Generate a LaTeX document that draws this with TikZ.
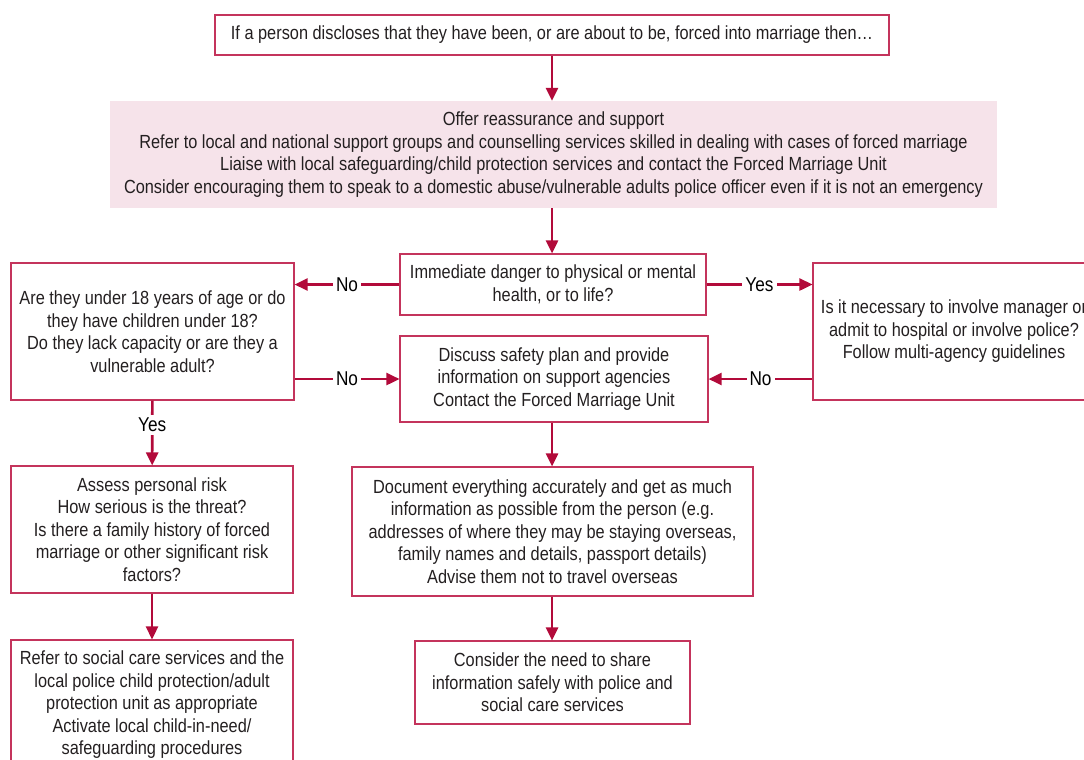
\documentclass[tikz,border=0pt]{standalone}
\usepackage{fontspec}
\setmainfont{Liberation Sans}[FakeStretch=0.86]
\usetikzlibrary{arrows.meta}
\definecolor{fmred}{RGB}{178,10,58}
\definecolor{fmedge}{RGB}{196,52,92}
\definecolor{fmpink}{RGB}{246,227,234}
\definecolor{fmtext}{RGB}{35,31,32}

\begin{document}
\begin{tikzpicture}[x=1pt,y=-1pt,
    box/.style={draw=fmedge, line width=1.1pt, align=center, inner sep=0pt, text=fmtext,
                font=\fontsize{19}{22.5}\selectfont},
    band/.style={fill=fmpink, align=center, inner sep=0pt, text=fmtext,
                font=\fontsize{19}{22.5}\selectfont},
    arr/.style={draw=fmred, line width=2.6pt, -{Triangle[length=13pt,width=12pt]}},
    lab/.style={fill=white, inner sep=3pt, text=black, font=\fontsize{20}{22}\selectfont}]
    \useasboundingbox (0,0) rectangle (1084,760);
    \clip (0,0) rectangle (1084,760);

    % boxes
    \node[box, minimum width=674pt, minimum height=40pt] (start) at (552,35)
        {If a person discloses that they have been, or are about to be, forced into marriage then\dots};
    \node[band, minimum width=887pt, minimum height=107pt] (support) at (553.5,154.5)
        {Offer reassurance and support\\
         Refer to local and national support groups and counselling services skilled in dealing with cases of forced marriage\\
         Liaise with local safeguarding/child protection services and contact the Forced Marriage Unit\\
         Consider encouraging them to speak to a domestic abuse/vulnerable adults police officer even if it is not an emergency};
    \node[box, minimum width=306pt, minimum height=61pt] (danger) at (553,284.5)
        {Immediate danger to physical or mental\\health, or to life?};
    \node[box, minimum width=308pt, minimum height=86pt] (safety) at (554,379)
        {Discuss safety plan and provide\\information on support agencies\\Contact the Forced Marriage Unit};
    \node[box, minimum width=283pt, minimum height=137pt] (under) at (152.5,331.5)
        {Are they under 18 years of age or do\\they have children under 18?\\Do they lack capacity or are they a\\vulnerable adult?};
    \node[box, minimum width=282pt, minimum height=137pt] (police) at (954,331.5)
        {Is it necessary to involve manager or\\admit to hospital or involve police?\\Follow multi-agency guidelines};
    \node[box, minimum width=282pt, minimum height=127pt] (risk) at (152,529.5)
        {Assess personal risk\\How serious is the threat?\\Is there a family history of forced\\marriage or other significant risk\\factors?};
    \node[box, minimum width=282pt, minimum height=130pt] (refer) at (152,705)
        {Refer to social care services and the\\local police child protection/adult\\protection unit as appropriate\\Activate local child-in-need/\\safeguarding procedures};
    \node[box, minimum width=401pt, minimum height=129pt] (record) at (552.5,531.5)
        {Document everything accurately and get as much\\information as possible from the person (e.g.\\addresses of where they may be staying overseas,\\family names and details, passport details)\\Advise them not to travel overseas};
    \node[box, minimum width=275pt, minimum height=83pt] (share) at (552.5,682.5)
        {Consider the need to share\\information safely with police and\\social care services};

    % connectors
    \draw[arr] (start.south) -- (start.south |- support.north);
    \draw[arr] (start.south |- support.south) -- (start.south |- danger.north);
    \draw[arr] (danger.west) -- node[lab] {No} (danger.west -| under.east);
    \draw[arr] (danger.east) -- node[lab] {Yes} (danger.east -| police.west);
    \draw[arr] (safety.west -| under.east) -- node[lab] {No} (safety.west);
    \draw[arr] (safety.east -| police.west) -- node[lab] {No} (safety.east);
    \draw[arr] (under) -- node[lab, pos=0.38] {Yes} (risk);
    \draw[arr] (risk) -- (refer);
    \draw[arr] (start.south |- safety.south) -- (start.south |- record.north);
    \draw[arr] (start.south |- record.south) -- (start.south |- share.north);
\end{tikzpicture}
\end{document}
